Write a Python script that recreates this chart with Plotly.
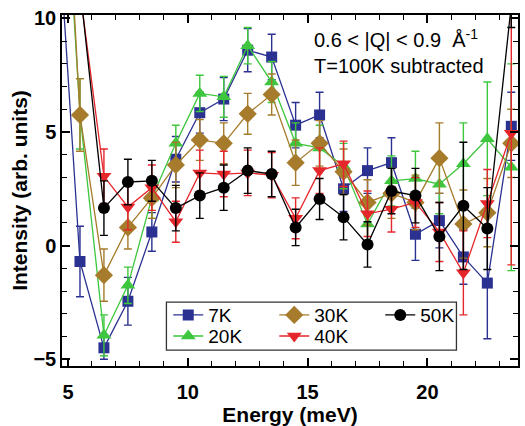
import plotly.graph_objects as go

energy = [4.5, 5.5, 6.5, 7.5, 8.5, 9.5, 10.5, 11.5, 12.5, 13.5, 14.5, 15.5, 16.5, 17.5, 18.5, 19.5, 20.5, 21.5, 22.5, 23.5]

i7 = [15.7, -0.7, -4.5, -2.45, 0.6, 3.8, 5.85, 6.45, 8.6, 8.3, 5.3, 5.75, 2.5, 3.3, 3.65, 0.5, 1.1, -0.5, -1.65, 5.25]
e7 = [1.5, 1.55, 0.5, 1.05, 0.85, 1.0, 0.9, 0.95, 0.95, 1.0, 1.0, 1.0, 1.0, 1.0, 1.1, 1.15, 1.2, 1.2, 2.45, 1.5]

i20 = [23.0, 5.8, -3.95, -1.75, 2.1, 4.5, 6.7, 6.55, 8.8, 7.2, 4.5, 4.3, 3.5, 0.95, 2.85, 2.95, 2.7, 3.6, 4.7, 3.45]
e20 = [1.5, 1.55, 0.9, 0.8, 0.9, 0.8, 0.8, 0.9, 0.8, 0.9, 0.9, 1.0, 1.0, 1.0, 1.1, 1.2, 1.3, 1.8, 2.5, 4.55]

i30 = [25.0, 5.75, -1.3, 0.8, 2.1, 3.55, 4.65, 4.5, 5.8, 6.65, 3.65, 4.5, 3.25, 1.9, 2.3, 1.9, 3.85, 0.95, 1.45, 4.5]
e30 = [1.6, 1.6, 1.15, 0.95, 0.9, 1.0, 0.9, 0.9, 0.9, 0.9, 1.0, 1.0, 1.0, 1.0, 1.1, 1.2, 1.55, 1.5, 1.5, 1.5]

i40 = [None, 11.2, 3.05, 1.7, 2.55, 1.05, 3.2, 3.15, 3.2, 3.1, 1.2, 3.3, 3.6, 1.4, 1.6, 1.9, 0.6, -1.2, 1.85, 4.95]
e40 = [0, 1.0, 1.2, 1.0, 1.0, 0.9, 1.0, 1.0, 1.0, 1.0, 0.9, 1.0, 1.0, 1.0, 1.0, 1.1, 1.3, 1.85, 1.5, 5.8]

i50 = [None, 11.4, 1.65, 2.8, 2.85, 1.65, 2.2, 2.55, 3.3, 3.15, 0.8, 2.05, 1.25, 0.05, 2.4, 2.2, 0.4, 1.75, 0.75, 10.6]
e50 = [0, 1.0, 1.2, 1.0, 0.9, 1.0, 1.0, 1.0, 1.0, 1.0, 0.8, 0.9, 1.0, 1.0, 1.0, 1.2, 1.5, 2.8, 1.8, 1.0]

series = [
    ("7K", i7, e7, "#2b3191", "square", 11, "legend"),
    ("20K", i20, e20, "#3ec63e", "triangle-up", 13, "legend2"),
    ("30K", i30, e30, "#a67b2b", "diamond", 14, "legend"),
    ("40K", i40, e40, "#e5262b", "triangle-down", 13, "legend2"),
    ("50K", i50, e50, "#000000", "circle", 12, "legend"),
]

FONT = "Liberation Sans, Arial, sans-serif"

fig = go.Figure()
for name, y, err, col, sym, size, leg in series:
    fig.add_trace(go.Scatter(
        x=energy, y=y, name=name, mode="lines+markers",
        line=dict(color=col, width=1.3),
        marker=dict(symbol=sym, size=size, color=col),
        error_y=dict(type="data", array=err, visible=True, color=col, thickness=1.4, width=4),
        legend=leg,
    ))

axis_common = dict(
    showline=True, linecolor="black", linewidth=1.5, mirror="allticks",
    ticks="inside", ticklen=8, tickwidth=1.5, tickcolor="black",
    showgrid=False, zeroline=False,
    tickfont=dict(family=FONT, size=20, color="black", weight="bold"),
    minor=dict(ticks="inside", ticklen=5, tickwidth=1.2, tickcolor="black", dtick=1, showgrid=False),
)

fig.update_layout(
    width=525, height=426,
    margin=dict(l=62, r=5, t=15, b=59),
    paper_bgcolor="white", plot_bgcolor="white",
    font=dict(family=FONT, color="black"),
    xaxis=dict(range=[4.75, 23.78], dtick=5, tick0=0, ticklabelstandoff=7,
               title=dict(text="Energy (meV)", font=dict(family=FONT, size=21, weight="bold"), standoff=4),
               **axis_common),
    yaxis=dict(range=[-5.3, 10.15], dtick=5, tick0=0,
               title=dict(text="Intensity (arb. units)", font=dict(family=FONT, size=21, weight="bold"), standoff=0),
               **axis_common),
    legend=dict(orientation="h", x=0.233, xanchor="left", y=0.145, yanchor="middle",
                entrywidth=61, font=dict(family=FONT, size=19), bgcolor="rgba(0,0,0,0)",
                tracegroupgap=0),
    legend2=dict(orientation="h", x=0.233, xanchor="left", y=0.085, yanchor="middle",
                 entrywidth=61, font=dict(family=FONT, size=19), bgcolor="rgba(0,0,0,0)",
                 tracegroupgap=0),
    shapes=[dict(type="rect", xref="paper", yref="paper", x0=0.229, x1=0.865, y0=0.045, y1=0.182,
                 line=dict(color="#333333", width=1.3), fillcolor="rgba(0,0,0,0)", layer="above")],
    annotations=[dict(xref="paper", yref="paper", x=0.549, y=0.975, xanchor="left", yanchor="top",
                      align="left", showarrow=False,
                      text="0.6 &lt; |Q| &lt; 0.9  Å<sup>-1</sup><br>T=100K subtracted",
                      font=dict(family=FONT, size=20, color="black"))],
)

fig.write_html("out.html")
